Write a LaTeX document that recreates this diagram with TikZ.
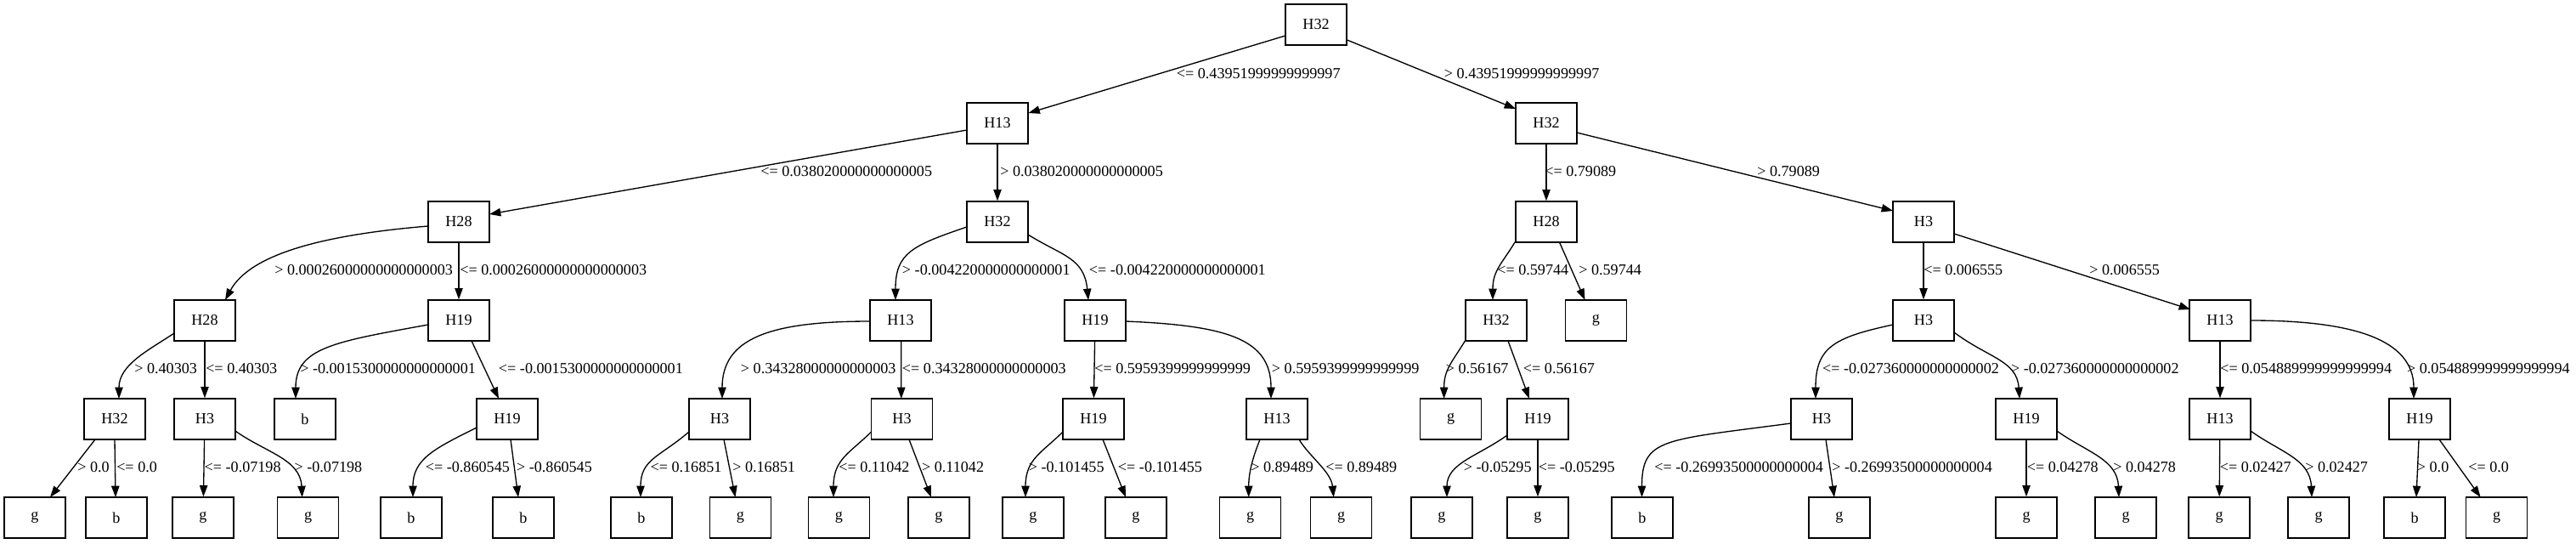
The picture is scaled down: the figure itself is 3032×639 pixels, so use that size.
\documentclass[tikz,border=0pt]{standalone}
\usepackage{fontspec}
\setmainfont{Liberation Serif}
\usetikzlibrary{arrows.meta,calc}
\begin{document}
\begin{tikzpicture}[x=0.75pt,y=-0.75pt,
  box/.style={draw, line width=1pt, minimum width=54pt, minimum height=36pt, inner sep=0pt, font=\fontsize{13.6}{16}\selectfont},
  lbl/.style={anchor=west, inner sep=0pt, font=\fontsize{13.6}{16}\selectfont},
  edge/.style={line width=1pt, -{Triangle[length=10pt,width=7pt]}}]
\useasboundingbox (0,0) rectangle (3032,639);
% level 0
\node[box] (r) at (1549,29) {H32};
% level 1
\node[box] (a) at (1174,145) {H13};
\node[box] (b1) at (1820,145) {H32};
% level 2
\node[box] (c1) at (540,261) {H28};
\node[box] (c2) at (1174,261) {H32};
\node[box] (c3) at (1820,261) {H28};
\node[box] (c4) at (2264,261) {H3};
% level 3
\node[box] (d1) at (241,377) {H28};
\node[box] (d2) at (540,377) {H19};
\node[box] (d3) at (1060,377) {H13};
\node[box] (d4) at (1289,377) {H19};
\node[box] (d5) at (1761,377) {H32};
\node[box] (d6) at (1878.5,377) {g};
\node[box] (d7) at (2264,377) {H3};
\node[box] (d8) at (2613,377) {H13};
% level 4
\node[box] (e1) at (135,493) {H32};
\node[box] (e2) at (241,493) {H3};
\node[box] (e3) at (359,493) {b};
\node[box] (e4) at (597,493) {H19};
\node[box] (e5) at (847,493) {H3};
\node[box] (e6) at (1061.5,493) {H3};
\node[box] (e7) at (1287,493) {H19};
\node[box] (e8) at (1503,493) {H13};
\node[box] (e9) at (1707.6,493) {g};
\node[box] (e10) at (1810,493) {H19};
\node[box] (e11) at (2144,493) {H3};
\node[box] (e12) at (2385,493) {H19};
\node[box] (e13) at (2613,493) {H13};
\node[box] (e14) at (2848,493) {H19};
% level 5
\node[box] (f1) at (41,609) {g};
\node[box] (f2) at (137,609) {b};
\node[box] (f3) at (239,609) {g};
\node[box] (f4) at (362.6,609) {g};
\node[box] (f5) at (484,609) {b};
\node[box] (f6) at (616,609) {b};
\node[box] (f7) at (755,609) {b};
\node[box] (f8) at (871.5,609) {g};
\node[box] (f9) at (987.5,609) {g};
\node[box] (f10) at (1105,609) {g};
\node[box] (f11) at (1216,609) {g};
\node[box] (f12) at (1337,609) {g};
\node[box] (f13) at (1471.7,609) {g};
\node[box] (f14) at (1578.7,609) {g};
\node[box] (f15) at (1697,609) {g};
\node[box] (f16) at (1810,609) {g};
\node[box] (f17) at (1933,609) {b};
\node[box] (f18) at (2165,609) {g};
\node[box] (f19) at (2385,609) {g};
\node[box] (f20) at (2502,609) {g};
\node[box] (f21) at (2612,609) {g};
\node[box] (f22) at (2729,609) {g};
\node[box] (f23) at (2842,609) {b};
\node[box] (f24) at (2938.6,609) {g};

% edges level 0-1
\draw[edge] ($(r)+(-36,13)$) -- ($(a)+(36.5,-12)$);
\draw[edge] ($(r)+(36.5,18)$) -- ($(b1)+(-36,-17)$);
% level 1-2
\draw[edge] ($(a)+(-36,8)$) -- ($(c1)+(36,-9)$);
\draw[edge] (a) -- (c2);
\draw[edge] (b1) -- (c3);
\draw[edge] ($(b1)+(36,11)$) -- ($(c4)+(-36,-13)$);
% level 2-3
\draw[edge] ($(c1)+(-36,5)$) .. controls +(-120,10) and +(30,-55) .. ($(d1)+(24,-24)$);
\draw[edge] (c1) -- (d2);
\draw[edge] ($(c2)+(-36,6)$) .. controls +(-65,22) and +(0,-55) .. ($(d3)+(-6,-24)$);
\draw[edge] ($(c2)+(36,15)$) .. controls +(40,25) and +(-5,-50) .. ($(d4)+(-8,-24)$);
\draw[edge] ($(c3)+(-37,24)$) .. controls +(-15,25) and +(0,-35) .. ($(d5)+(-4,-24)$);
\draw[edge] ($(c3)+(15.5,24)$) -- ($(d6)+(-13,-24)$);
\draw[edge] (c4) -- (d7);
\draw[edge] ($(c4)+(36,14)$) -- ($(d8)+(-35,-13)$);
% level 3-4
\draw[edge] ($(d1)+(-36,15)$) .. controls +(-30,20) and +(0,-40) .. ($(e1)+(5,-24)$);
\draw[edge] (d1) -- (e2);
\draw[edge] ($(d2)+(-36,5)$) .. controls +(-110,20) and +(0,-60) .. ($(e3)+(-11,-24)$);
\draw[edge] ($(d2)+(15,24)$) -- ($(e4)+(-10,-24)$);
\draw[edge] ($(d3)+(-36,1)$) .. controls +(-120,0) and +(0,-70) .. ($(e5)+(3,-24)$);
\draw[edge] ($(d3)+(0.7,24)$) -- ($(e6)+(-0.7,-24)$);
\draw[edge] (d4) -- (e7);
\draw[edge] ($(d4)+(36,1)$) .. controls +(120,5) and +(0,-70) .. ($(e8)+(-7,-24)$);
\draw[edge] ($(d5)+(-36,23)$) .. controls +(-15,25) and +(0,-35) .. ($(e9)+(-8,-24)$);
\draw[edge] ($(d5)+(14,24)$) -- ($(e10)+(-10,-24)$);
\draw[edge] ($(d7)+(-36,5)$) .. controls +(-70,15) and +(0,-60) .. ($(e11)+(-7,-24)$);
\draw[edge] ($(d7)+(36,14)$) .. controls +(40,30) and +(-3,-45) .. ($(e12)+(-8,-24)$);
\draw[edge] (d8) -- (e13);
\draw[edge] ($(d8)+(36,0)$) .. controls +(120,0) and +(0,-70) .. ($(e14)+(-7,-24)$);
% level 4-5
\draw[edge] ($(e1)+(-23,24)$) -- ($(f1)+(18,-24)$);
\draw[edge] ($(e1)+(0,24)$) -- ($(f2)+(-1,-24)$);
\draw[edge] (e2) -- (f3);
\draw[edge] ($(e2)+(36,14)$) .. controls +(35,25) and +(-2,-45) .. ($(f4)+(-7,-24)$);
\draw[edge] ($(e4)+(-36,10)$) .. controls +(-50,25) and +(0,-45) .. ($(f5)+(2,-24)$);
\draw[edge] ($(e4)+(4,24)$) -- ($(f6)+(-6,-24)$);
\draw[edge] ($(e5)+(-36,15)$) .. controls +(-35,30) and +(0,-45) .. ($(f7)+(-1,-24)$);
\draw[edge] ($(e5)+(5,24)$) -- ($(f8)+(-6,-24)$);
\draw[edge] ($(e6)+(-36,15)$) .. controls +(-25,25) and +(0,-45) .. ($(f9)+(-6.5,-24)$);
\draw[edge] ($(e6)+(8.5,24)$) -- ($(f10)+(-9,-24)$);
\draw[edge] ($(e7)+(-36,15)$) .. controls +(-25,25) and +(0,-45) .. ($(f11)+(-9,-24)$);
\draw[edge] ($(e7)+(11,24)$) -- ($(f12)+(-12,-24)$);
\draw[edge] ($(e8)+(-20,24)$) .. controls +(-8,20) and +(0,-30) .. ($(f13)+(-2,-24)$);
\draw[edge] ($(e8)+(26,24)$) .. controls +(12,20) and +(-3,-30) .. ($(f14)+(-9,-24)$);
\draw[edge] ($(e10)+(-36,19)$) .. controls +(-35,25) and +(0,-40) .. ($(f15)+(6,-24)$);
\draw[edge] (e10) -- (f16);
\draw[edge] ($(e11)+(-36,5)$) .. controls +(-150,20) and +(0,-70) .. ($(f17)+(-0.5,-24)$);
\draw[edge] ($(e11)+(5,24)$) -- ($(f18)+(-6,-24)$);
\draw[edge] (e12) -- (f19);
\draw[edge] ($(e12)+(36,14)$) .. controls +(35,25) and +(-2,-45) .. ($(f20)+(-8,-24)$);
\draw[edge] (e13) -- (f21);
\draw[edge] ($(e13)+(36,14)$) .. controls +(35,25) and +(-2,-45) .. ($(f22)+(-8,-24)$);
\draw[edge] ($(e14)+(-1,24)$) -- ($(f23)+(2,-24)$);
\draw[edge] ($(e14)+(23,24)$) -- ($(f24)+(-19,-24)$);

% labels level 0-1
\node[lbl] (l01a) at (1384.6,87) {<= 0.43951999999999997};
\node[lbl] (l01b) at (1699.6,87) {> 0.43951999999999997};
% labels level 1-2
\node[lbl] (l12a) at (895,202) {<= 0.038020000000000005};
\node[lbl] (l12b) at (1177,202) {> 0.038020000000000005};
\node[lbl] (l12c) at (1818,202) {<= 0.79089};
\node[lbl] (l12d) at (2068,202) {> 0.79089};
% labels level 2-3
\node[lbl] (l23a) at (323,318) {> 0.00026000000000000003};
\node[lbl] (l23b) at (541,318) {<= 0.00026000000000000003};
\node[lbl] (l23c) at (1061.7,318) {> -0.004220000000000001};
\node[lbl] (l23d) at (1281.7,318) {<= -0.004220000000000001};
\node[lbl] (l23e) at (1762,318) {<= 0.59744};
\node[lbl] (l23f) at (1858,318) {> 0.59744};
\node[lbl] (l23g) at (2264,318) {<= 0.006555};
\node[lbl] (l23h) at (2459,318) {> 0.006555};
% labels level 3-4
\node[lbl] (l34a) at (158,434) {> 0.40303};
\node[lbl] (l34b) at (242,434) {<= 0.40303};
\node[lbl] (l34c) at (353,434) {> -0.0015300000000000001};
\node[lbl] (l34d) at (586.7,434) {<= -0.0015300000000000001};
\node[lbl] (l34e) at (871.7,434) {> 0.34328000000000003};
\node[lbl] (l34f) at (1061.7,434) {<= 0.34328000000000003};
\node[lbl] (l34g) at (1288,434) {<= 0.5959399999999999};
\node[lbl] (l34h) at (1496.7,434) {> 0.5959399999999999};
\node[lbl] (l34i) at (1701.5,434) {> 0.56167};
\node[lbl] (l34j) at (1792.7,434) {<= 0.56167};
\node[lbl] (l34k) at (2144.8,434) {<= -0.027360000000000002};
\node[lbl] (l34l) at (2366.7,434) {> -0.027360000000000002};
\node[lbl] (l34m) at (2613,434) {<= 0.054889999999999994};
\node[lbl] (l34n) at (2832.8,434) {> 0.054889999999999994};
% labels level 4-5
\node[lbl] (l45a) at (91,550) {> 0.0};
\node[lbl] (l45b) at (137,550) {<= 0.0};
\node[lbl] (l45c) at (240.4,550) {<= -0.07198};
\node[lbl] (l45d) at (346.3,550) {> -0.07198};
\node[lbl] (l45e) at (500.6,550) {<= -0.860545};
\node[lbl] (l45f) at (607.8,550) {> -0.860545};
\node[lbl] (l45g) at (765.3,550) {<= 0.16851};
\node[lbl] (l45h) at (862,550) {> 0.16851};
\node[lbl] (l45i) at (987,550) {<= 0.11042};
\node[lbl] (l45j) at (1084.8,550) {> 0.11042};
\node[lbl] (l45k) at (1210.5,550) {> -0.101455};
\node[lbl] (l45l) at (1315.7,550) {<= -0.101455};
\node[lbl] (l45m) at (1472,550) {> 0.89489};
\node[lbl] (l45n) at (1560,550) {<= 0.89489};
\node[lbl] (l45o) at (1722.6,550) {> -0.05295};
\node[lbl] (l45p) at (1810.5,550) {<= -0.05295};
\node[lbl] (l45q) at (1947,550) {<= -0.26993500000000004};
\node[lbl] (l45r) at (2156,550) {> -0.26993500000000004};
\node[lbl] (l45s) at (2385.5,550) {<= 0.04278};
\node[lbl] (l45t) at (2487,550) {> 0.04278};
\node[lbl] (l45u) at (2612.5,550) {<= 0.02427};
\node[lbl] (l45v) at (2713,550) {> 0.02427};
\node[lbl] (l45w) at (2844.6,550) {> 0.0};
\node[lbl] (l45x) at (2905,550) {<= 0.0};
\end{tikzpicture}
\end{document}
